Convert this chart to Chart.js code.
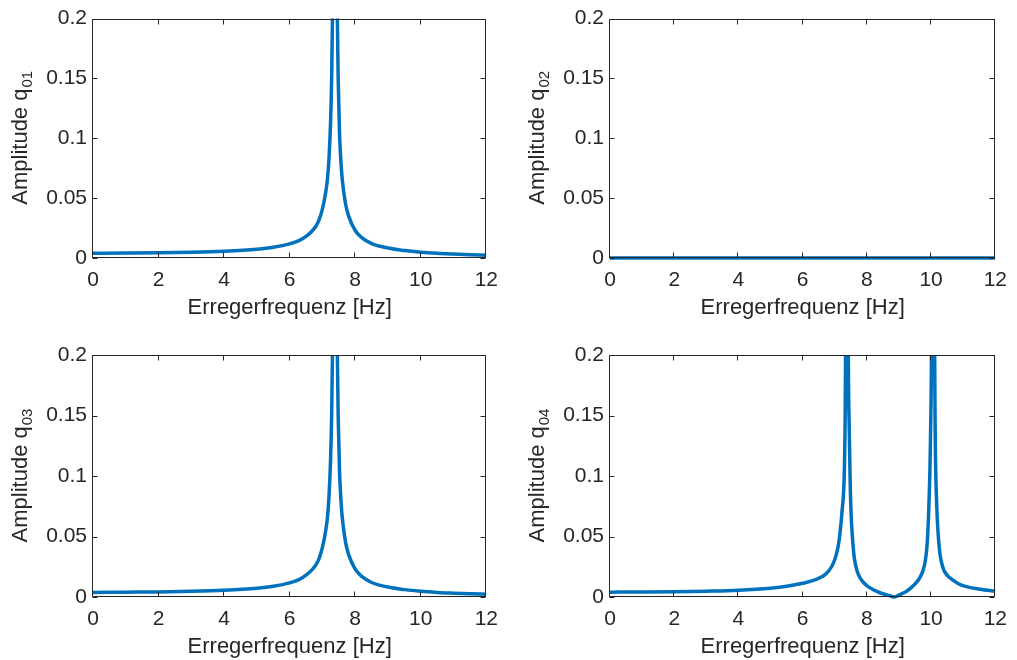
<!DOCTYPE html>
<html>
  <head>
    <meta charset="utf-8">
    <script src="https://cdn.jsdelivr.net/npm/chart.js@4.4.0/dist/chart.umd.min.js"></script>
    <style>
      body { margin: 0; background: #fff; }
      .panel { position: absolute; width: 508px; height: 330px; }
    </style>
  </head>
  <body>
    <div class="panel" style="left:0;top:0"><canvas id="q1"></canvas></div>
    <div class="panel" style="left:509px;top:0"><canvas id="q2"></canvas></div>
    <div class="panel" style="left:0;top:330px"><canvas id="q3"></canvas></div>
    <div class="panel" style="left:509px;top:330px"><canvas id="q4"></canvas></div>
    <script>
      // values
      const freq1 = [0, 1, 2, 3, 4, 5, 5.5, 6, 6.3, 6.5, 6.7, 6.8, 6.9, 7.0, 7.1, 7.15, 7.2, 7.25, 7.28, 7.31,
                     7.33, 7.35, 7.40, 7.42, 7.45, 7.48, 7.52, 7.55, 7.6, 7.7, 7.8, 8.0, 8.2, 8.5, 9.0, 9.5, 10, 10.5, 11, 11.5, 12];
      const amp1 = [0.0040, 0.0041, 0.0043, 0.0048, 0.0057, 0.0074, 0.0090, 0.0118, 0.0147, 0.018, 0.023, 0.0265, 0.032, 0.041, 0.055, 0.065, 0.083, 0.115, 0.149, 0.21,
                    0.30, 0.5, 0.5, 0.30, 0.21, 0.15, 0.105, 0.087, 0.067, 0.046, 0.035, 0.023, 0.017, 0.012, 0.0083, 0.0062, 0.0048, 0.0039, 0.0033, 0.0028, 0.0024];

      const freq2 = [0, 2, 4, 6, 8, 10, 12];
      const amp2 = [0, 0, 0, 0, 0, 0, 0];

      const freq3 = [0, 1, 2, 3, 4, 5, 5.5, 6, 6.3, 6.5, 6.7, 6.8, 6.9, 7.0, 7.1, 7.15, 7.2, 7.25, 7.28, 7.31,
                     7.33, 7.35, 7.40, 7.42, 7.45, 7.48, 7.52, 7.55, 7.6, 7.7, 7.8, 8.0, 8.2, 8.5, 9.0, 9.5, 10, 10.5, 11, 11.5, 12];
      const amp3 = [0.0038, 0.0040, 0.0042, 0.0047, 0.0056, 0.0073, 0.0089, 0.0117, 0.0146, 0.018, 0.023, 0.0265, 0.032, 0.041, 0.055, 0.065, 0.083, 0.115, 0.149, 0.21,
                    0.30, 0.5, 0.5, 0.30, 0.21, 0.15, 0.105, 0.087, 0.067, 0.046, 0.035, 0.023, 0.017, 0.012, 0.0082, 0.0061, 0.0047, 0.0038, 0.0032, 0.0027, 0.0023];

      const freq4 = [0, 1, 2, 3, 4, 5, 5.5, 6, 6.4, 6.7, 6.9, 7.0, 7.1, 7.16, 7.23, 7.29, 7.32, 7.34, 7.36, 7.40,
                     7.42, 7.45, 7.48, 7.51, 7.56, 7.61, 7.7, 7.82, 8.0, 8.2, 8.43, 8.65, 8.75, 8.85, 8.95, 9.05, 9.24, 9.45, 9.64, 9.75,
                     9.82, 9.88, 9.93, 9.98, 10.02, 10.04, 10.08, 10.10, 10.13, 10.17, 10.25, 10.36, 10.5, 10.66, 10.85, 11.07, 11.47, 12];
      const amp4 = [0.0040, 0.0041, 0.0043, 0.0048, 0.0056, 0.0073, 0.0088, 0.0113, 0.0143, 0.0185, 0.025, 0.031, 0.041, 0.052, 0.072, 0.097, 0.14, 0.22, 0.5, 0.5,
                    0.22, 0.14, 0.095, 0.068, 0.046, 0.032, 0.021, 0.0145, 0.0093, 0.006, 0.0033, 0.0015, 0.0007, 0, 0.0009, 0.0022, 0.0047, 0.0095, 0.0155, 0.022,
                    0.030, 0.045, 0.075, 0.13, 0.25, 0.5, 0.5, 0.25, 0.13, 0.08, 0.042, 0.025, 0.018, 0.0143, 0.011, 0.0088, 0.0066, 0.0047];

      const xTicks = [0, 2, 4, 6, 8, 10, 12];
      const yTicks = [0, 0.05, 0.1, 0.15, 0.2];
      const xTitle = 'Erregerfrequenz [Hz]';
      const yTitle = 'Amplitude q';
      const subscripts = ['01', '02', '03', '04'];

      const textColor = '#262626';
      const fontFamily = "'Liberation Sans', Arial, Helvetica, sans-serif";

      // box, inward ticks on all four sides, axis titles (matlab look)
      const matlabAxes = {
        id: 'matlabAxes',
        afterDraw(chart, args, opts) {
          const ctx = chart.ctx;
          const a = chart.chartArea;
          const x = chart.scales.x, y = chart.scales.y;
          const L = Math.round(a.left) - 0.5, R = Math.round(a.right) - 0.5;
          const T = Math.round(a.top) + 0.5, B = Math.round(a.bottom) - 0.5;
          ctx.save();
          ctx.strokeStyle = textColor;
          ctx.lineWidth = 1;
          ctx.beginPath();
          ctx.rect(L, T, R - L, B - T);
          xTicks.forEach(v => {
            const px = Math.round(x.getPixelForValue(v)) - 0.5;
            ctx.moveTo(px, B); ctx.lineTo(px, B - 5);
            ctx.moveTo(px, T); ctx.lineTo(px, T + 5);
          });
          yTicks.forEach(v => {
            const py = Math.round(y.getPixelForValue(v)) + 0.5;
            ctx.moveTo(L, py); ctx.lineTo(L + 5, py);
            ctx.moveTo(R, py); ctx.lineTo(R - 5, py);
          });
          ctx.stroke();

          ctx.fillStyle = textColor;
          ctx.font = '22px ' + fontFamily;
          ctx.textAlign = 'center';
          ctx.textBaseline = 'middle';
          ctx.fillText(xTitle, (a.left + a.right) / 2, a.bottom + 50);

          ctx.translate(a.left - 66, (a.top + a.bottom) / 2);
          ctx.rotate(-Math.PI / 2);
          ctx.textAlign = 'left';
          ctx.textBaseline = 'alphabetic';
          const w1 = ctx.measureText(yTitle).width;
          ctx.font = '15px ' + fontFamily;
          const w2 = ctx.measureText(opts.sub).width;
          const x0 = -(w1 + w2) / 2;
          ctx.font = '22px ' + fontFamily;
          ctx.fillText(yTitle, x0, 0);
          ctx.font = '15px ' + fontFamily;
          ctx.fillText(opts.sub, x0 + w1 + 1, 5);
          ctx.restore();
        }
      };

      const panels = [
        { id: 'q1', freq: freq1, amp: amp1, sub: subscripts[0], area: { l: 93, t: 15, r: 487, b: 258 } },
        { id: 'q2', freq: freq2, amp: amp2, sub: subscripts[1], area: { l: 101, t: 15, r: 495, b: 258 } },
        { id: 'q3', freq: freq3, amp: amp3, sub: subscripts[2], area: { l: 93, t: 25, r: 487, b: 267 } },
        { id: 'q4', freq: freq4, amp: amp4, sub: subscripts[3], area: { l: 101, t: 25, r: 495, b: 267 } }
      ];

      panels.forEach(p => {
        const a = p.area;
        const points = p.freq.map((f, i) => ({ x: f, y: p.amp[i] }));
        new Chart(document.getElementById(p.id), {
          type: 'line',
          data: {
            datasets: [{
              data: points,
              borderColor: '#0072BD',
              borderWidth: 3.5,
              pointRadius: 0,
              cubicInterpolationMode: 'monotone',
              clip: { left: 0, top: 0, right: 0, bottom: 3 }
            }]
          },
          plugins: [matlabAxes],
          options: {
            responsive: true,
            maintainAspectRatio: false,
            animation: false,
            layout: { padding: { left: 0, top: a.t, right: 508 - a.r, bottom: 0 } },
            plugins: {
              legend: { display: false },
              tooltip: { enabled: false },
              matlabAxes: { sub: p.sub }
            },
            scales: {
              x: {
                type: 'linear',
                min: 0,
                max: 12,
                afterBuildTicks: s => { s.ticks = xTicks.map(v => ({ value: v })); },
                afterFit: s => { s.height = 330 - a.b; },
                grid: { display: false, drawTicks: false },
                border: { display: false },
                ticks: { padding: 10, color: textColor, font: { family: fontFamily, size: 21 }, maxRotation: 0,
                         callback: v => String(v) }
              },
              y: {
                min: 0,
                max: 0.2,
                afterBuildTicks: s => { s.ticks = yTicks.map(v => ({ value: v })); },
                afterFit: s => { s.width = a.l; },
                grid: { display: false, drawTicks: false },
                border: { display: false },
                ticks: { padding: 6, color: textColor, font: { family: fontFamily, size: 21 },
                         callback: v => String(v) }
              }
            }
          }
        });
      });
    </script>
  </body>
</html>
